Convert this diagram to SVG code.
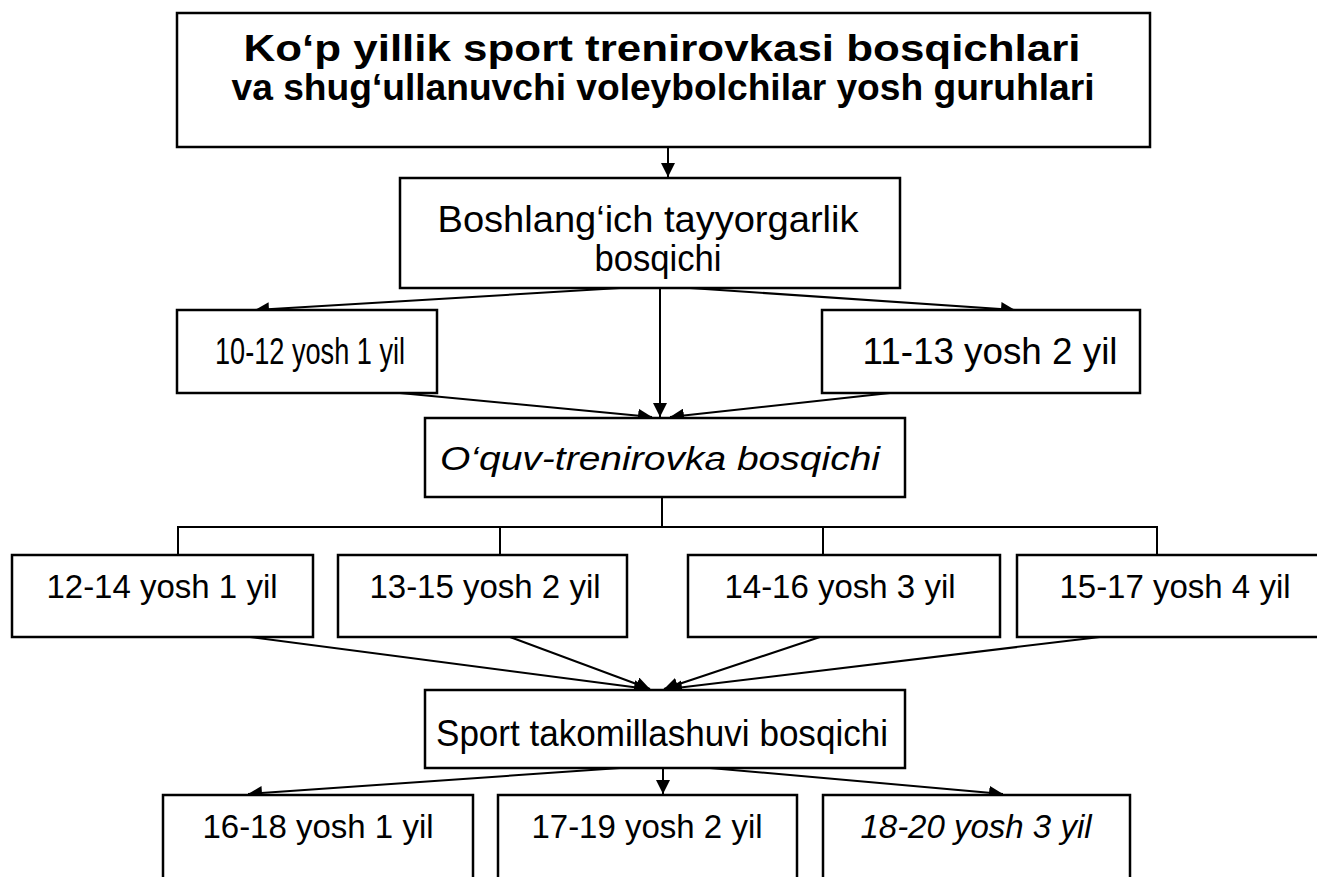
<svg xmlns="http://www.w3.org/2000/svg" width="1317" height="877" viewBox="0 0 1317 877">
<style>
.box{fill:#fff;stroke:#000;stroke-width:2.5}
.ln{fill:none;stroke:#000;stroke-width:2}
.t{font-family:"Liberation Sans",Arial,sans-serif;font-size:33px;fill:#000;text-anchor:middle}
.n{font-size:36px}
.b{font-weight:bold}
.i{font-style:italic}
</style>
<defs>
<marker id="ah2" viewBox="0 0 10 10" refX="10" refY="5" markerWidth="14" markerHeight="14" markerUnits="userSpaceOnUse" orient="auto">
<path d="M0,0 L10,5 L0,10 z" fill="#000"/>
</marker>
</defs>
<rect width="1317" height="877" fill="#fff"/>
<g id="connectors">
<line class="ln" x1="668" y1="147" x2="668" y2="177" marker-end="url(#ah2)"/>
<line class="ln" x1="620" y1="288" x2="255" y2="310" marker-end="url(#ah2)"/>
<line class="ln" x1="660" y1="288" x2="660" y2="417" marker-end="url(#ah2)"/>
<line class="ln" x1="690" y1="288" x2="1015" y2="310" marker-end="url(#ah2)"/>
<line class="ln" x1="400" y1="393" x2="652" y2="417" marker-end="url(#ah2)"/>
<line class="ln" x1="890" y1="393" x2="670" y2="417" marker-end="url(#ah2)"/>
<path class="ln" d="M662,497 V527 M178,555 V527 H1157 V555 M500,527 V555 M823,527 V555"/>
<line class="ln" x1="250" y1="637" x2="648" y2="689" marker-end="url(#ah2)"/>
<line class="ln" x1="510" y1="637" x2="650" y2="689" marker-end="url(#ah2)"/>
<line class="ln" x1="820" y1="637" x2="664" y2="689" marker-end="url(#ah2)"/>
<line class="ln" x1="1100" y1="637" x2="668" y2="689" marker-end="url(#ah2)"/>
<line class="ln" x1="620" y1="768" x2="248" y2="794" marker-end="url(#ah2)"/>
<line class="ln" x1="663" y1="768" x2="663" y2="794" marker-end="url(#ah2)"/>
<line class="ln" x1="710" y1="768" x2="1003" y2="794" marker-end="url(#ah2)"/>
</g>
<g id="n-title">
<rect class="box" x="177" y="13" width="973" height="134"/>
<text class="t b n" x="662" y="61" textLength="837" lengthAdjust="spacingAndGlyphs">Ko‘p yillik sport trenirovkasi bosqichlari</text>
<text class="t b n" x="663" y="100" textLength="863" lengthAdjust="spacingAndGlyphs">va shug‘ullanuvchi voleybolchilar yosh guruhlari</text>
</g>
<g id="n-boshlang">
<rect class="box" x="400" y="178" width="500" height="110"/>
<text class="t n" x="648" y="232" textLength="421" lengthAdjust="spacingAndGlyphs">Boshlang‘ich tayyorgarlik</text>
<text class="t n" x="658" y="271" textLength="127" lengthAdjust="spacingAndGlyphs">bosqichi</text>
</g>
<g id="n-10-12">
<rect class="box" x="177" y="310" width="260" height="83"/>
<text class="t n" x="310" y="364" textLength="190" lengthAdjust="spacingAndGlyphs">10-12 yosh 1 yil</text>
</g>
<g id="n-11-13">
<rect class="box" x="822" y="310" width="318" height="83"/>
<text class="t n" x="990" y="364" textLength="255" lengthAdjust="spacingAndGlyphs">11-13 yosh 2 yil</text>
</g>
<g id="n-oquv">
<rect class="box" x="425" y="418" width="480" height="79"/>
<text class="t i" x="660" y="470" textLength="440" lengthAdjust="spacingAndGlyphs">O‘quv-trenirovka bosqichi</text>
</g>
<g id="n-12-14">
<rect class="box" x="12" y="555" width="301" height="82"/>
<text class="t" x="162" y="598">12-14 yosh 1 yil</text>
</g>
<g id="n-13-15">
<rect class="box" x="338" y="555" width="289" height="82"/>
<text class="t" x="485" y="598">13-15 yosh 2 yil</text>
</g>
<g id="n-14-16">
<rect class="box" x="688" y="555" width="312" height="82"/>
<text class="t" x="840" y="598">14-16 yosh 3 yil</text>
</g>
<g id="n-15-17">
<rect class="box" x="1017" y="555" width="310" height="82"/>
<text class="t" x="1175" y="598">15-17 yosh 4 yil</text>
</g>
<g id="n-sport">
<rect class="box" x="425" y="690" width="480" height="78"/>
<text class="t n" x="662" y="746" textLength="452" lengthAdjust="spacingAndGlyphs">Sport takomillashuvi bosqichi</text>
</g>
<g id="n-16-18">
<rect class="box" x="163" y="795" width="310" height="100"/>
<text class="t" x="318" y="838">16-18 yosh 1 yil</text>
</g>
<g id="n-17-19">
<rect class="box" x="498" y="795" width="299" height="100"/>
<text class="t" x="647" y="838">17-19 yosh 2 yil</text>
</g>
<g id="n-18-20">
<rect class="box" x="823" y="795" width="307" height="100"/>
<text class="t i" x="976" y="838">18-20 yosh 3 yil</text>
</g>
</svg>
